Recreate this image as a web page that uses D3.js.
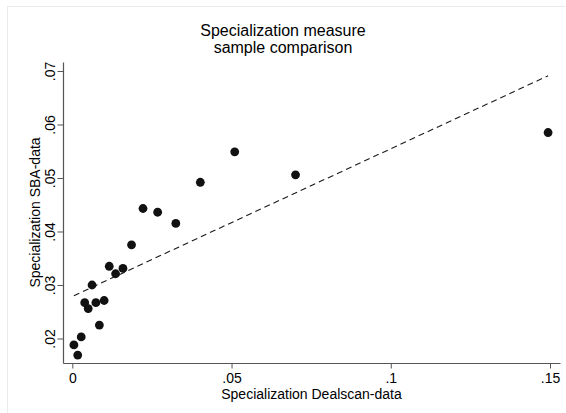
<!DOCTYPE html>
<html>
<head>
<meta charset="utf-8">
<script src="https://cdn.jsdelivr.net/npm/d3@7"></script>
<style>
  body { margin: 0; background: #fff; }
  svg { display: block; font-family: "Liberation Sans", Arial, sans-serif; }
</style>
</head>
<body>
<div id="chart"></div>
<script>
// Dealscan-data specialization (x) vs SBA-data specialization (y)
var dealscan = [0.0005, 0.0017, 0.0028, 0.0039, 0.0050, 0.0062, 0.0074, 0.0085, 0.0100, 0.0116,
                0.0136, 0.0159, 0.0186, 0.0222, 0.0268, 0.0325, 0.0402, 0.0510, 0.0701, 0.1494];
var sba      = [0.0188, 0.0169, 0.0203, 0.0267, 0.0256, 0.0300, 0.0267, 0.0225, 0.0271, 0.0335,
                0.0321, 0.0331, 0.0375, 0.0443, 0.0436, 0.0415, 0.0492, 0.0549, 0.0506, 0.0585];

// linear fit line end points
var fitX = [0.0005, 0.1494];
var fitY = [0.0280, 0.0691];

var xTicks = [0, 0.05, 0.1, 0.15];
var yTicks = [0.02, 0.03, 0.04, 0.05, 0.06, 0.07];

var width = 566, height = 413;
var plotLeft = 63, plotRight = 560, plotTop = 62, plotBottom = 363;

var svg = d3.select("#chart")
    .append("svg")
    .attr("width", width)
    .attr("height", height);

// light outer frame
svg.append("rect")
    .attr("x", 7.5)
    .attr("y", 6.5)
    .attr("width", 700)
    .attr("height", 600)
    .attr("fill", "#fff")
    .attr("stroke", "#ebebeb")
    .attr("stroke-width", 1);

var x = d3.scaleLinear()
    .domain([-0.00292, 0.15314])
    .range([plotLeft, plotRight]);

var y = d3.scaleLinear()
    .domain([0.01542, 0.07168])
    .range([plotBottom, plotTop]);

function fmt(d) {
    if (d === 0) return "0";
    return d3.format(".2~f")(d).replace(/^0/, "");
}

// x axis
var xAxis = svg.append("g")
    .attr("transform", "translate(0," + plotBottom + ")")
    .call(d3.axisBottom(x).tickValues(xTicks).tickFormat(fmt).tickSizeInner(5.5).tickSizeOuter(0).tickPadding(4.5));
xAxis.select(".domain").attr("stroke", "#555").attr("stroke-width", 1.2);
xAxis.selectAll(".tick line").attr("stroke", "#555");
xAxis.selectAll("text")
    .attr("fill", "#000")
    .style("font-size", "14px")
    .style("font-family", "Liberation Sans, Arial, sans-serif");

// y axis, rotated tick labels
var yAxis = svg.append("g")
    .attr("transform", "translate(" + plotLeft + ",0)")
    .call(d3.axisLeft(y).tickValues(yTicks).tickFormat(fmt).tickSizeInner(5.5).tickSizeOuter(0));
yAxis.select(".domain").attr("stroke", "#555").attr("stroke-width", 1.2);
yAxis.selectAll(".tick line").attr("stroke", "#555");
yAxis.selectAll("text")
    .attr("x", null)
    .attr("dy", null)
    .attr("fill", "#000")
    .attr("text-anchor", "middle")
    .attr("transform", "translate(-8,0) rotate(-90)")
    .style("font-size", "14px")
    .style("font-family", "Liberation Sans, Arial, sans-serif");

// fit line
svg.append("line")
    .attr("x1", x(fitX[0]))
    .attr("y1", y(fitY[0]))
    .attr("x2", x(fitX[1]))
    .attr("y2", y(fitY[1]))
    .attr("stroke", "#1a1a1a")
    .attr("stroke-width", 1.1)
    .attr("stroke-dasharray", "6,4");

// points
svg.selectAll("circle.pt")
    .data(dealscan.map(function(d, i) { return {x: d, y: sba[i]}; }))
    .enter()
    .append("circle")
    .attr("class", "pt")
    .attr("cx", d => x(d.x))
    .attr("cy", d => y(d.y))
    .attr("r", 4.4)
    .attr("fill", "#111");

// axis titles
svg.append("text")
    .attr("x", (plotLeft + plotRight) / 2)
    .attr("y", 399)
    .attr("text-anchor", "middle")
    .style("font-size", "14px")
    .text("Specialization Dealscan-data");

svg.append("text")
    .attr("transform", "translate(40," + (plotTop + plotBottom) / 2 + ") rotate(-90)")
    .attr("text-anchor", "middle")
    .style("font-size", "14px")
    .text("Specialization SBA-data");

// title
svg.append("text")
    .attr("x", width / 2)
    .attr("y", 36)
    .attr("text-anchor", "middle")
    .style("font-size", "16px")
    .text("Specialization measure");
svg.append("text")
    .attr("x", width / 2)
    .attr("y", 53)
    .attr("text-anchor", "middle")
    .style("font-size", "16px")
    .text("sample comparison");
</script>
</body>
</html>
